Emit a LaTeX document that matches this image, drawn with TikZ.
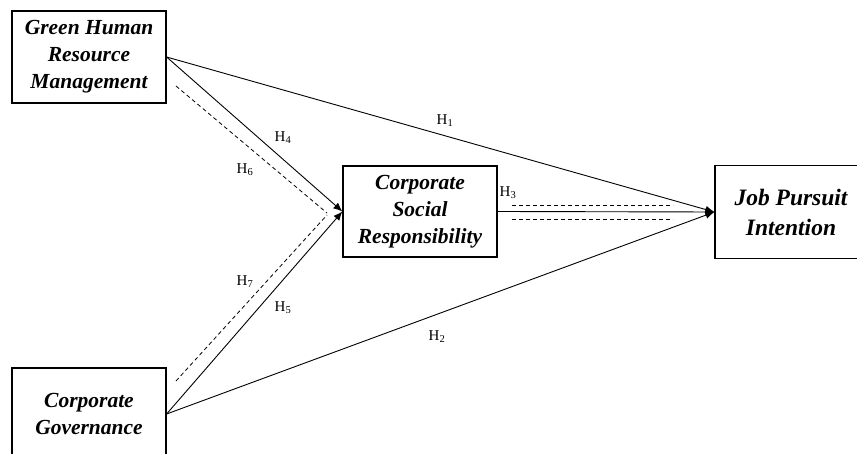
\documentclass[tikz,border=0pt]{standalone}
\usepackage{fontspec}
\setmainfont{Liberation Serif}
\usetikzlibrary{arrows.meta}
\begin{document}
\begin{tikzpicture}[x=1pt,y=-1pt,
  box/.style={draw,line width=1.2pt,align=center,inner sep=0pt,font=\fontsize{21.5}{27}\selectfont\bfseries\itshape},
  lab/.style={font=\fontsize{15}{16}\selectfont,inner sep=0pt},
  con/.style={line width=0.9pt},
  arr/.style={con,-{Latex[length=9pt,width=7.5pt]}},
  dsh/.style={line width=0.8pt,dash pattern=on 4pt off 3pt}]
\useasboundingbox (0,0) rectangle (857,454);
\begin{scope}
\clip (0,0) rectangle (857,454);
\node[box,minimum width=154pt,minimum height=92pt] (ghrm) at (89,57) {Green Human\\Resource\\Management};
\node[box,minimum width=154pt,minimum height=92pt] (cg) at (89,414) {Corporate\\Governance};
\node[box,minimum width=154pt,minimum height=91pt] (csr) at (420,211.5) {Corporate\\Social\\Responsibility};
\node[box,minimum width=152pt,minimum height=93pt,font=\fontsize{23.5}{30}\selectfont\bfseries\itshape] (jpi) at (791,212) {Job Pursuit\\Intention};
\end{scope}
\coordinate (g1) at (176,86);
\coordinate (g2) at (327,213);
\coordinate (c1) at (176,381);
\coordinate (c2) at (327,215);
\coordinate (d1) at (512,205);
\coordinate (d2) at (673,205);
\coordinate (d3) at (512,219);
\coordinate (d4) at (673,219);
\draw[arr] (ghrm.east) -- (jpi.west);
\draw[arr] (cg.east) -- (jpi.west);
\draw[arr] (ghrm.east) -- (csr.west);
\draw[arr] (cg.east) -- (csr.west);
\draw[arr] (csr.east) -- (jpi.west);
\draw[dsh] (g1) -- (g2);
\draw[dsh] (c1) -- (c2);
\draw[dsh] (d1) -- (d2);
\draw[dsh] (d3) -- (d4);
\node[lab] (h1) at (445,121) {H\textsubscript{1}};
\node[lab] (h2) at (437,337) {H\textsubscript{2}};
\node[lab] (h3) at (508,193) {H\textsubscript{3}};
\node[lab] (h4) at (283,138) {H\textsubscript{4}};
\node[lab] (h5) at (283,308) {H\textsubscript{5}};
\node[lab] (h6) at (245,170) {H\textsubscript{6}};
\node[lab] (h7) at (245,282) {H\textsubscript{7}};
\end{tikzpicture}
\end{document}
